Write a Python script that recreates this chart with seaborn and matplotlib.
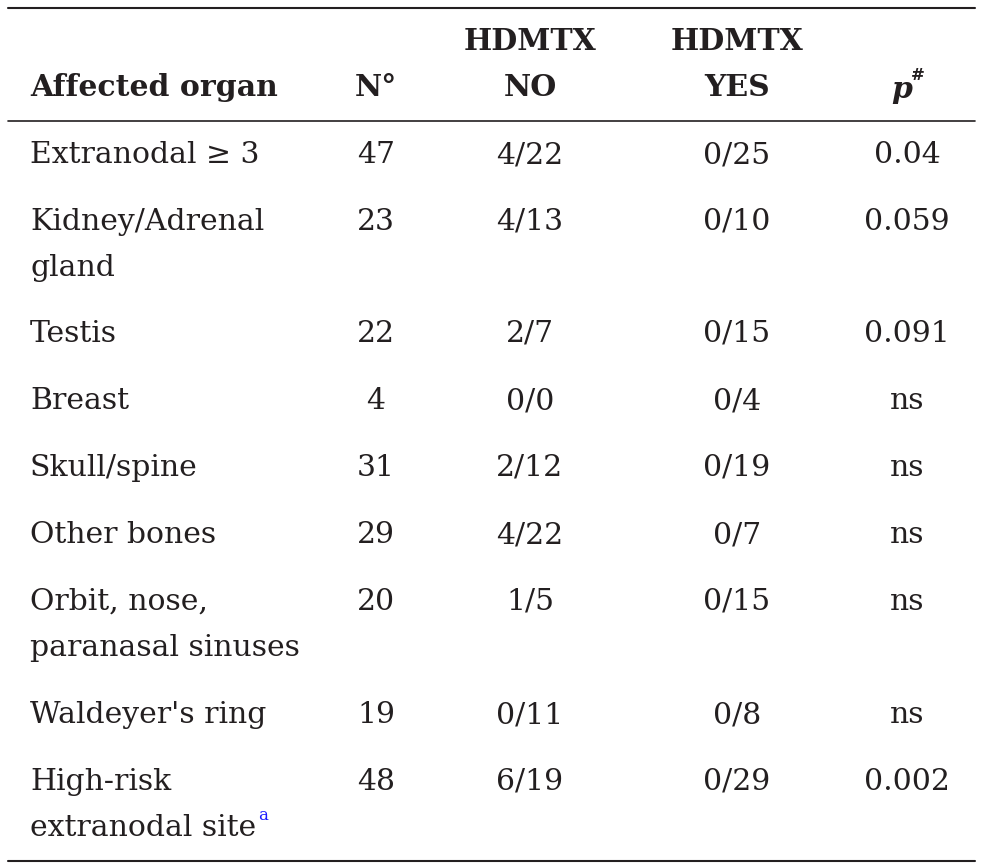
import matplotlib
matplotlib.use("Agg")
import matplotlib.pyplot as plt
import seaborn as sns

organs = ["Extranodal \u2265 3", "Kidney/Adrenal\ngland", "Testis", "Breast", "Skull/spine",
          "Other bones", "Orbit, nose,\nparanasal sinuses", "Waldeyer's ring",
          "High-risk\nextranodal site"]
n_vals = ["47", "23", "22", "4", "31", "29", "20", "19", "48"]
hd_no = ["4/22", "4/13", "2/7", "0/0", "2/12", "4/22", "1/5", "0/11", "6/19"]
hd_yes = ["0/25", "0/10", "0/15", "0/4", "0/19", "0/7", "0/15", "0/8", "0/29"]
p_vals = ["0.04", "0.059", "0.091", "ns", "ns", "ns", "ns", "ns", "0.002"]

sns.set_style("white")
plt.rcParams["font.family"] = ["DejaVu Serif"]

W, H = 987, 868
fig = plt.figure(figsize=(W / 100, H / 100), dpi=100)
ax = fig.add_axes([0, 0, 1, 1])
ax.set_xlim(0, W)
ax.set_ylim(H, 0)
ax.axis("off")

col = "#231f20"
fs = 21.5
ax.plot([8, 975], [8, 8], color=col, lw=1.5)
ax.plot([8, 975], [121, 121], color=col, lw=1.2)
ax.plot([8, 975], [861, 861], color=col, lw=1.5)

# header
ax.text(30, 88, "Affected organ", fontsize=fs, weight="bold", color=col, va="center")
ax.text(376, 88, "N\u00b0", fontsize=fs, weight="bold", color=col, va="center", ha="center")
ax.text(530, 42, "HDMTX", fontsize=fs, weight="bold", color=col, va="center", ha="center")
ax.text(530, 88, "NO", fontsize=fs, weight="bold", color=col, va="center", ha="center")
ax.text(737, 42, "HDMTX", fontsize=fs, weight="bold", color=col, va="center", ha="center")
ax.text(737, 88, "YES", fontsize=fs, weight="bold", color=col, va="center", ha="center")
ax.text(902, 90, "p", fontsize=fs, weight="bold", style="italic", color=col, va="center", ha="center")
ax.text(911, 76, "#", fontsize=12, weight="bold", color=col, va="center", ha="left")

row_y = [155, 222, 334, 401, 468, 535, 602, 715, 782]
line_gap = 46
last = None
for y, org, n, no, yes, p in zip(row_y, organs, n_vals, hd_no, hd_yes, p_vals):
    lines = org.split("\n")
    for k, ln in enumerate(lines):
        last = ax.text(30, y + k * line_gap, ln, fontsize=fs, color=col, va="center")
    ax.text(376, y, n, fontsize=fs, color=col, va="center", ha="center")
    ax.text(530, y, no, fontsize=fs, color=col, va="center", ha="center")
    ax.text(737, y, yes, fontsize=fs, color=col, va="center", ha="center")
    ax.text(907, y, p, fontsize=fs, color=col, va="center", ha="center")

# superscript a right after the last label
r = fig.canvas.get_renderer()
bb = last.get_window_extent(renderer=r)
ax.text(bb.x1 + 2, row_y[-1] + line_gap - 12, "a", fontsize=12, color="#1a1aff",
        va="center", ha="left", transform=None) if False else \
    ax.text(bb.x1 + 2, row_y[-1] + line_gap - 12, "a", fontsize=12, color="#1a1aff",
            va="center", ha="left")

fig.savefig("out.png", dpi=100, facecolor="white")
